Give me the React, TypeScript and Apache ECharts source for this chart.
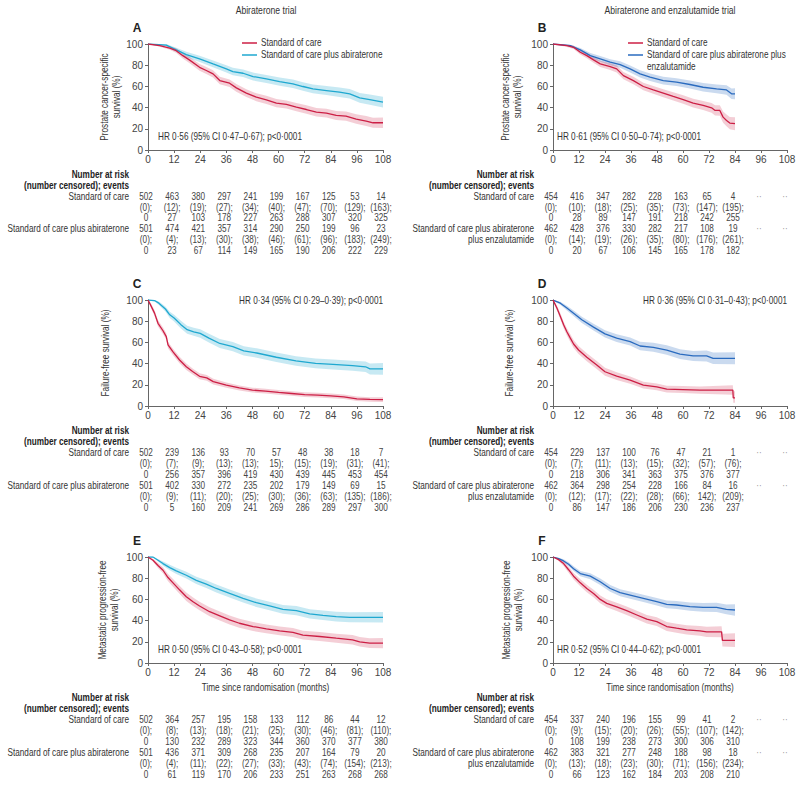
import React, { useEffect, useRef } from "react";
import * as echarts from "echarts";

const FONT = '"Liberation Sans", Arial, sans-serif';
const NARROW = 0.82;
const RED = "#cc1f45";
const CYAN = "#1fa8d0";
const BLUE = "#2a6bbf";
const RED_BAND = "rgba(204,31,69,0.22)";
const CYAN_BAND = "rgba(31,168,208,0.25)";
const BLUE_BAND = "rgba(42,107,191,0.25)";

const X_TICKS = [0, 12, 24, 36, 48, 60, 72, 84, 96, 108];

// ---------- Panel A: prostate cancer-specific survival, abiraterone trial
const A_SOC_T = [0, 5.4, 10, 13, 16, 19, 23.7, 26.8, 29.9, 33, 37.5, 40.6, 45.2, 49.8, 54.4, 59, 63.6, 68.2, 72.8, 77.4, 82, 86.5, 91, 95.7, 100.3, 103.4, 108];
const A_SOC = [100, 98.4, 96.2, 93.7, 89, 85, 78, 75, 71.8, 65.5, 63, 58.6, 53.6, 49.8, 47.3, 44.2, 43, 40.4, 38.2, 35.7, 34.8, 32.6, 32, 29.2, 27.3, 25.7, 25.7];
const A_SOC_LO = [100, 97.3, 94.5, 91.5, 86.4, 82.1, 74.8, 71.7, 68.4, 62, 59.4, 55, 49.9, 46.1, 43.5, 40.4, 39.2, 36.5, 34.3, 31.7, 30.7, 28.4, 27.7, 24.7, 22.6, 20.9, 20.7];
const A_SOC_HI = [100, 99.5, 97.9, 95.9, 91.6, 87.9, 81.2, 78.3, 75.2, 69, 66.6, 62.2, 57.3, 53.5, 51.1, 48, 46.8, 44.3, 42.1, 39.7, 38.9, 36.8, 36.3, 33.7, 32, 30.5, 30.7];
const A_TRT_T = [0, 8.4, 13, 17.6, 23.7, 29.9, 36, 39, 43.7, 48.3, 54.4, 60.5, 66.6, 71.2, 75.8, 82, 88, 92.7, 97.3, 101.9, 108];
const A_TRT = [100, 99, 94.4, 90, 86, 81.2, 76.5, 74, 72.4, 69.3, 67, 64.6, 62.4, 59.9, 57.7, 56.1, 54.5, 53, 49.2, 47.6, 45.1];
const A_TRT_LO = [100, 98.1, 92.4, 87.4, 83, 78, 73.1, 70.5, 68.8, 65.6, 63.2, 60.7, 58.4, 55.8, 53.5, 51.8, 50.1, 48.5, 44.6, 42.8, 40];
const A_TRT_HI = [100, 99.9, 96.4, 92.6, 89, 84.4, 79.9, 77.5, 76, 73, 70.8, 68.5, 66.4, 64, 61.9, 60.4, 58.9, 57.5, 53.8, 52.4, 50.2];

// ---------- Panel B
const B_SOC_T = [0, 6.4, 9.5, 12.6, 15.6, 18.7, 21.8, 26.4, 29.4, 32.5, 37.1, 41.7, 46.3, 50.9, 55.5, 60.1, 64.7, 69.3, 73.2, 74.8, 77, 78.5, 80.1, 81.6, 84];
const B_SOC = [100, 98.4, 96.9, 92.2, 89, 85, 81.2, 78.7, 76.5, 70.2, 65.5, 59.9, 56.7, 53.6, 50.5, 47.6, 44.2, 42, 39.8, 37.3, 37.3, 31, 27.9, 25.4, 24.8];
const B_SOC_LO = [100, 97.2, 95.3, 90, 86.5, 82.2, 78.2, 75.5, 73.2, 66.8, 62, 56.3, 53, 49.8, 46.6, 43.6, 40.1, 37.7, 35.2, 32.5, 32.3, 25.7, 22.4, 19.6, 18.6];
const B_SOC_HI = [100, 99.6, 98.5, 94.4, 91.5, 87.8, 84.2, 81.9, 79.8, 73.6, 69, 63.5, 60.4, 57.4, 54.4, 51.6, 48.3, 46.3, 44.4, 42.1, 42.3, 36.3, 33.4, 31.2, 31];
const B_TRT_T = [0, 8, 12.6, 17.2, 21.8, 26.4, 31, 35.6, 40.2, 44.8, 50.9, 57, 63.2, 69.3, 75.5, 80.1, 82.4, 84];
const B_TRT = [100, 98.4, 94.4, 89, 85.9, 82.8, 80.6, 76.5, 71.8, 68.7, 65.5, 64, 61.8, 59.2, 57.7, 56.7, 53, 53];
const B_TRT_LO = [100, 97.4, 92.6, 86.6, 83.2, 79.9, 77.5, 73.2, 68.4, 65.2, 61.9, 60.3, 58, 55.3, 53.5, 52.2, 48, 47.8];
const B_TRT_HI = [100, 99.4, 96.2, 91.4, 88.6, 85.7, 83.7, 79.8, 75.2, 72.2, 69.1, 67.7, 65.6, 63.1, 61.9, 61.2, 58, 58.2];

// ---------- Panel C
const C_SOC_T = [0, 0.5, 1.5, 3, 4.6, 6.9, 8.4, 9.2, 11.5, 14.5, 17.6, 20.5, 23.7, 27, 30, 36, 42, 48, 54, 60, 66, 72, 78, 84, 90, 96, 102, 108];
const C_SOC = [100, 98, 94, 87.6, 78, 71, 65.5, 57.6, 51, 43.4, 37, 32.5, 28, 26.5, 23, 19.6, 17, 15, 14, 12.8, 11.8, 10.8, 10.3, 9.5, 8.7, 6.8, 6.2, 6];
const C_SOC_LO = [100, 97, 91.8, 84.9, 75, 67.9, 62.4, 54.5, 47.9, 40.3, 34, 29.6, 25.2, 23.8, 20.4, 17.1, 14.6, 12.7, 11.7, 10.6, 9.6, 8.6, 8.1, 7.3, 6.5, 4.7, 4.1, 3.8];
const C_SOC_HI = [100, 99, 96.2, 90.3, 81, 74.1, 68.6, 60.7, 54.1, 46.5, 40, 35.4, 30.8, 29.2, 25.6, 22.1, 19.4, 17.3, 16.3, 15, 14, 13, 12.5, 11.7, 10.9, 8.9, 8.3, 8.2];
const C_TRT_T = [0, 3, 5, 8, 10, 12, 15, 18, 21, 24, 28, 33, 39, 44, 50, 59, 68, 77, 85, 94, 100, 102, 108];
const C_TRT = [100, 99.5, 97, 91.5, 86, 83, 77, 72, 70, 68.5, 64, 59, 56, 52, 50, 46, 42.5, 40.2, 39.2, 38, 37, 35, 35];
const C_TRT_LO = [100, 98.5, 95.4, 89.2, 83, 79.8, 73.3, 68.2, 66.2, 64.5, 59.8, 54.8, 51.6, 47.6, 45.6, 41.6, 38, 35.6, 34.5, 33.2, 32, 29.8, 29.5];
const C_TRT_HI = [100, 100, 98.6, 93.8, 89, 86.2, 80.7, 75.8, 73.8, 72.5, 68.2, 63.2, 60.4, 56.4, 54.4, 50.4, 47, 44.8, 43.9, 42.8, 42, 40.2, 40.5];

// ---------- Panel D
const D_SOC_T = [0, 0.3, 1.8, 3.4, 4.9, 6.4, 8, 9.5, 11.8, 15.6, 20.2, 24, 29.4, 35.6, 41.7, 47.9, 52.5, 60, 67.8, 83, 83.2, 84];
const D_SOC = [100, 98.7, 92.4, 84.5, 76.6, 70, 64, 58.5, 52.8, 46, 38.6, 32.3, 28.2, 24.4, 19.6, 18, 16, 15.5, 15, 15, 7.6, 7.6];
const D_SOC_LO = [100, 97.5, 90, 81.6, 73.4, 66.6, 60.4, 54.8, 49, 42.2, 34.8, 28.6, 24.6, 21, 16.4, 14.8, 12.8, 12.2, 11.5, 10.5, 3, 3];
const D_SOC_HI = [100, 99.9, 94.8, 87.4, 79.8, 73.4, 67.6, 62.2, 56.6, 49.8, 42.4, 36, 31.8, 27.8, 22.8, 21.2, 19.2, 18.8, 18.5, 19.5, 14, 14];
const D_TRT_T = [0, 0.3, 3.4, 6.4, 9.5, 13.3, 18.7, 24, 29.4, 35.6, 40.2, 46.3, 52.5, 58.6, 64.7, 70.9, 73.9, 84];
const D_TRT = [100, 99.7, 97, 92.4, 87.6, 81.3, 74.4, 68, 64, 60.8, 56.6, 55.4, 52.8, 49, 47.2, 47.2, 45, 45];
const D_TRT_LO = [100, 99.2, 95.6, 90.2, 85, 78.4, 71.2, 64.6, 60.4, 57, 52.6, 51.2, 48.4, 44.4, 42.4, 42, 39.6, 39.4];
const D_TRT_HI = [100, 100, 98.4, 94.6, 90.2, 84.2, 77.6, 71.4, 67.6, 64.6, 60.6, 59.6, 57.2, 53.6, 52, 52.4, 50.4, 50.6];

// ---------- Panel E
const E_SOC_T = [0, 2.3, 4.6, 6.9, 9.2, 11.5, 14.6, 17.6, 20.7, 23.7, 28.3, 33, 37.5, 42, 48.3, 54.4, 60.5, 66.6, 71.2, 78.9, 86.5, 94, 97.3, 101.9, 108];
const E_SOC = [100, 97, 92, 87.5, 80.6, 75.6, 68.8, 62.5, 57.8, 53.8, 48.4, 44.4, 40.6, 37.5, 34.4, 32.2, 30.3, 28.8, 26.3, 25, 23.4, 21.9, 20, 18.8, 18.8];
const E_SOC_LO = [100, 95.6, 89.7, 84.6, 77.2, 72, 65, 58.6, 53.8, 49.8, 44.2, 40.2, 36.4, 33.3, 30.2, 28, 26.1, 24.6, 22.1, 20.8, 19.1, 17.5, 15.5, 14.2, 14];
const E_SOC_HI = [100, 98.4, 94.3, 90.4, 84, 79.2, 72.6, 66.4, 61.8, 57.8, 52.6, 48.6, 44.8, 41.7, 38.6, 36.4, 34.5, 33, 30.5, 29.2, 27.7, 26.3, 24.5, 23.4, 23.6];
const E_TRT_T = [0, 2.3, 4.6, 6.9, 10, 13, 17.6, 22.2, 26.8, 31.4, 37.5, 43.7, 49.8, 55.9, 62, 68.2, 74.3, 80.4, 86.5, 92.7, 108];
const E_TRT = [100, 100, 97, 93.8, 90, 86.9, 82.8, 78, 74.4, 70.3, 65.6, 61, 56.9, 53.8, 50.6, 49.4, 46.3, 45, 43.8, 43.1, 43.1];
const E_TRT_LO = [100, 99.8, 95.8, 91.8, 87.4, 84, 79.6, 74.6, 70.8, 66.6, 61.8, 57.1, 52.9, 49.7, 46.4, 45.1, 41.9, 40.5, 39.2, 38.4, 38.2];
const E_TRT_HI = [100, 100, 98.2, 95.8, 92.6, 89.8, 86, 81.4, 78, 74, 69.4, 64.9, 60.9, 57.9, 54.8, 53.7, 50.7, 49.5, 48.4, 47.8, 48];

// ---------- Panel F
const F_SOC_T = [0, 2.6, 4.9, 7.2, 9.5, 12.6, 15.6, 18.7, 21.8, 24.8, 29.4, 34, 38.7, 43.3, 47.9, 52.5, 57, 61.7, 67.8, 70.9, 77.8, 78.2, 84];
const F_SOC = [100, 97.5, 93.8, 88, 81.9, 75.6, 70.3, 65.6, 60, 56.3, 53, 49.4, 45.3, 41.3, 39, 34.4, 32.8, 31.3, 30.3, 29.4, 29.4, 21.3, 21.3];
const F_SOC_LO = [100, 96.2, 91.6, 85.2, 78.8, 72.3, 66.8, 62, 56.3, 52.5, 49.1, 45.4, 41.3, 37.2, 34.8, 30.2, 28.5, 26.9, 25.7, 24.6, 24.2, 15.6, 15.2];
const F_SOC_HI = [100, 98.8, 96, 90.8, 85, 78.9, 73.8, 69.2, 63.7, 60.1, 56.9, 53.4, 49.3, 45.4, 43.2, 38.6, 37.1, 35.7, 34.9, 34.2, 34.6, 27.6, 28];
const F_TRT_T = [0, 2.6, 4.9, 7.2, 9.5, 12.6, 17.2, 21.8, 26.4, 31, 35.6, 41.7, 47.9, 52.5, 57, 63.2, 69.3, 75.5, 80, 84];
const F_TRT = [100, 98.4, 96.3, 93.1, 89, 84.4, 81.9, 76.6, 70.3, 66.3, 64, 61, 57.8, 55.3, 54.7, 53.1, 52.5, 52.5, 50.6, 50];
const F_TRT_LO = [100, 97.6, 94.8, 91.2, 86.8, 81.9, 79.1, 73.6, 67.1, 63, 60.6, 57.5, 54.2, 51.6, 50.9, 49.2, 48.4, 48.2, 46, 44.6];
const F_TRT_HI = [100, 99.2, 97.8, 95, 91.2, 86.9, 84.7, 79.6, 73.5, 69.6, 67.4, 64.5, 61.4, 59, 58.5, 57, 56.6, 56.8, 55.2, 55.4];

// ---------- Number at risk tables
const A_NR_SOC = [502, 463, 380, 297, 241, 199, 167, 125, 53, 14];
const A_CENS_SOC = ["(0);", "(12);", "(19);", "(27);", "(34);", "(40);", "(47);", "(70);", "(129);", "(163);"];
const A_EV_SOC = [0, 27, 103, 178, 227, 263, 288, 307, 320, 325];
const A_NR_TRT = [501, 474, 421, 357, 314, 290, 250, 199, 96, 23];
const A_CENS_TRT = ["(0);", "(4);", "(13);", "(30);", "(38);", "(46);", "(61);", "(96);", "(183);", "(249);"];
const A_EV_TRT = [0, 23, 67, 114, 149, 165, 190, 206, 222, 229];

const B_NR_SOC = [454, 416, 347, 282, 228, 163, 65, 4];
const B_CENS_SOC = ["(0);", "(10);", "(18);", "(25);", "(35);", "(73);", "(147);", "(195);"];
const B_EV_SOC = [0, 28, 89, 147, 191, 218, 242, 255];
const B_NR_TRT = [462, 428, 376, 330, 282, 217, 108, 19];
const B_CENS_TRT = ["(0);", "(14);", "(19);", "(26);", "(35);", "(80);", "(176);", "(261);"];
const B_EV_TRT = [0, 20, 67, 106, 145, 165, 178, 182];

const C_NR_SOC = [502, 239, 136, 93, 70, 57, 48, 38, 18, 7];
const C_CENS_SOC = ["(0);", "(7);", "(9);", "(13);", "(13);", "15);", "(15);", "(19);", "(31);", "(41);"];
const C_EV_SOC = [0, 256, 357, 396, 419, 430, 439, 445, 453, 454];
const C_NR_TRT = [501, 402, 330, 272, 235, 202, 179, 149, 69, 15];
const C_CENS_TRT = ["(0);", "(9);", "(11);", "(20);", "(25);", "(30);", "(36);", "(63);", "(135);", "(186);"];
const C_EV_TRT = [0, 5, 160, 209, 241, 269, 286, 289, 297, 300];

const D_NR_SOC = [454, 229, 137, 100, 76, 47, 21, 1];
const D_CENS_SOC = ["(0);", "(7);", "(11);", "(13);", "(15);", "(32);", "(57);", "(76);"];
const D_EV_SOC = [0, 218, 306, 341, 363, 375, 376, 377];
const D_NR_TRT = [462, 364, 298, 254, 228, 166, 84, 16];
const D_CENS_TRT = ["(0);", "(12);", "(17);", "(22);", "(28);", "(66);", "142);", "(209);"];
const D_EV_TRT = [0, 86, 147, 186, 206, 230, 236, 237];

const E_NR_SOC = [502, 364, 257, 195, 158, 133, 112, 86, 44, 12];
const E_CENS_SOC = ["(0);", "(8);", "(13);", "(18);", "(21);", "(25);", "(30);", "(46);", "(81);", "(110);"];
const E_EV_SOC = [0, 130, 232, 289, 323, 344, 360, 370, 377, 380];
const E_NR_TRT = [501, 436, 371, 309, 268, 235, 207, 164, 79, 20];
const E_CENS_TRT = ["(0);", "(4);", "(11);", "(22);", "(27);", "(33);", "(43);", "(74);", "(154);", "(213);"];
const E_EV_TRT = [0, 61, 119, 170, 206, 233, 251, 263, 268, 268];

const F_NR_SOC = [454, 337, 240, 196, 155, 99, 41, 2];
const F_CENS_SOC = ["(0);", "(9);", "(15);", "(20);", "(26);", "(55);", "(107);", "(142);"];
const F_EV_SOC = [0, 108, 199, 238, 273, 300, 306, 310];
const F_NR_TRT = [462, 383, 321, 277, 248, 188, 98, 18];
const F_CENS_TRT = ["(0);", "(13);", "(18);", "(23);", "(30);", "(71);", "(156);", "(234);"];
const F_EV_TRT = [0, 66, 123, 162, 184, 203, 208, 210];

const SOC_LABEL = "Standard of care";
const TRT_LABEL_ABI = "Standard of care plus abiraterone";
const TRT_LABEL_ENZ = ["Standard of care plus abiraterone", "plus enzalutamide"];
const HR_TEXT = [
  "HR 0·56 (95% CI 0·47–0·67); p<0·0001",
  "HR 0·61 (95% CI 0·50–0·74); p<0·0001",
  "HR 0·34 (95% CI 0·29–0·39); p<0·0001",
  "HR 0·36 (95% CI 0·31–0·43); p<0·0001",
  "HR 0·50 (95% CI 0·43–0·58); p<0·0001",
  "HR 0·52 (95% CI 0·44–0·62); p<0·0001",
];
const Y_TITLES = [
  "Prostate cancer-specific\nsurvival (%)",
  "Prostate cancer-specific\nsurvival (%)",
  "Failure-free survival (%)",
  "Failure-free survival (%)",
  "Metastatic progression-free\nsurvival (%)",
  "Metastatic progression-free\nsurvival (%)",
];
const LETTERS = ["A", "B", "C", "D", "E", "F"];

type Curve = { t: number[]; v: number[]; lo: number[]; hi: number[] };
type Panel = {
  soc: Curve;
  trt: Curve;
  trtColor: string;
  trtBand: string;
  nrSoc: number[];
  censSoc: string[];
  evSoc: number[];
  nrTrt: number[];
  censTrt: string[];
  evTrt: number[];
};

const PANELS: Panel[] = [
  { soc: { t: A_SOC_T, v: A_SOC, lo: A_SOC_LO, hi: A_SOC_HI }, trt: { t: A_TRT_T, v: A_TRT, lo: A_TRT_LO, hi: A_TRT_HI }, trtColor: CYAN, trtBand: CYAN_BAND, nrSoc: A_NR_SOC, censSoc: A_CENS_SOC, evSoc: A_EV_SOC, nrTrt: A_NR_TRT, censTrt: A_CENS_TRT, evTrt: A_EV_TRT },
  { soc: { t: B_SOC_T, v: B_SOC, lo: B_SOC_LO, hi: B_SOC_HI }, trt: { t: B_TRT_T, v: B_TRT, lo: B_TRT_LO, hi: B_TRT_HI }, trtColor: BLUE, trtBand: BLUE_BAND, nrSoc: B_NR_SOC, censSoc: B_CENS_SOC, evSoc: B_EV_SOC, nrTrt: B_NR_TRT, censTrt: B_CENS_TRT, evTrt: B_EV_TRT },
  { soc: { t: C_SOC_T, v: C_SOC, lo: C_SOC_LO, hi: C_SOC_HI }, trt: { t: C_TRT_T, v: C_TRT, lo: C_TRT_LO, hi: C_TRT_HI }, trtColor: CYAN, trtBand: CYAN_BAND, nrSoc: C_NR_SOC, censSoc: C_CENS_SOC, evSoc: C_EV_SOC, nrTrt: C_NR_TRT, censTrt: C_CENS_TRT, evTrt: C_EV_TRT },
  { soc: { t: D_SOC_T, v: D_SOC, lo: D_SOC_LO, hi: D_SOC_HI }, trt: { t: D_TRT_T, v: D_TRT, lo: D_TRT_LO, hi: D_TRT_HI }, trtColor: BLUE, trtBand: BLUE_BAND, nrSoc: D_NR_SOC, censSoc: D_CENS_SOC, evSoc: D_EV_SOC, nrTrt: D_NR_TRT, censTrt: D_CENS_TRT, evTrt: D_EV_TRT },
  { soc: { t: E_SOC_T, v: E_SOC, lo: E_SOC_LO, hi: E_SOC_HI }, trt: { t: E_TRT_T, v: E_TRT, lo: E_TRT_LO, hi: E_TRT_HI }, trtColor: CYAN, trtBand: CYAN_BAND, nrSoc: E_NR_SOC, censSoc: E_CENS_SOC, evSoc: E_EV_SOC, nrTrt: E_NR_TRT, censTrt: E_CENS_TRT, evTrt: E_EV_TRT },
  { soc: { t: F_SOC_T, v: F_SOC, lo: F_SOC_LO, hi: F_SOC_HI }, trt: { t: F_TRT_T, v: F_TRT, lo: F_TRT_LO, hi: F_TRT_HI }, trtColor: BLUE, trtBand: BLUE_BAND, nrSoc: F_NR_SOC, censSoc: F_CENS_SOC, evSoc: F_EV_SOC, nrTrt: F_NR_TRT, censTrt: F_CENS_TRT, evTrt: F_EV_TRT },
];

// ---------- layout (pixels)
const LAYOUT = [
  { left: 148, top: 44, width: 235 },
  { left: 553, top: 44, width: 234 },
  { left: 148, top: 300, width: 235 },
  { left: 553, top: 300, width: 234 },
  { left: 148, top: 557, width: 235 },
  { left: 553, top: 557, width: 234 },
];
const PLOT_H = 106;
const Y_TITLE_X = [111, 512, 106, 510, 109, 513];
const TABLE_Y0 = [175, 175, 431, 431, 698, 698];
const TABLE_DY = [10.8, 10.8, 10.9, 10.9, 11, 11];

const TEXT_COLOR = "#333";
const NUM_COLOR = "#444";

function text(x: number, y: number, s: string, o: any = {}) {
  return {
    type: "text",
    x,
    y,
    rotation: o.rotation || 0,
    scaleX: o.scaleX || NARROW,
    silent: true,
    style: {
      text: s,
      fill: o.fill || TEXT_COLOR,
      fontSize: o.fontSize || 10,
      fontFamily: FONT,
      fontWeight: o.fontWeight || "normal",
      textAlign: o.align || "left",
      textVerticalAlign: "middle",
      lineHeight: o.lineHeight || 12,
    },
  };
}

function bandSeries(i: number, c: Curve, color: string) {
  return {
    type: "custom",
    xAxisIndex: i,
    yAxisIndex: i,
    silent: true,
    z: 1,
    data: [[0, 0]],
    renderItem: (_params: any, api: any) => {
      const upper = c.t.map((t, k) => api.coord([t, c.hi[k]]));
      const lower = c.t.map((t, k) => api.coord([t, c.lo[k]])).reverse();
      return {
        type: "polygon",
        shape: { points: upper.concat(lower) },
        style: { fill: color, stroke: "none" },
      };
    },
  };
}

function buildOption() {
  const grid: any[] = [];
  const xAxis: any[] = [];
  const yAxis: any[] = [];
  const series: any[] = [];
  const graphic: any[] = [];

  const axisCommon = {
    axisLine: { show: true, lineStyle: { color: "#666", width: 1 } },
    axisTick: { show: true, inside: false, length: 3, lineStyle: { color: "#666" } },
    splitLine: { show: false },
  };

  PANELS.forEach((p, i) => {
    const L = LAYOUT[i];
    grid.push({ left: L.left, top: L.top, width: L.width, height: PLOT_H, containLabel: false });
    xAxis.push({
      type: "value",
      gridIndex: i,
      min: 0,
      max: 108,
      interval: 12,
      ...axisCommon,
      axisLabel: { color: NUM_COLOR, fontSize: 10, fontFamily: FONT, margin: 4, showMaxLabel: true, showMinLabel: true },
    });
    yAxis.push({
      type: "value",
      gridIndex: i,
      min: 0,
      max: 100,
      interval: 20,
      ...axisCommon,
      axisLabel: { color: NUM_COLOR, fontSize: 10, fontFamily: FONT, margin: 5 },
    });

    series.push(bandSeries(i, p.trt, p.trtBand));
    series.push(bandSeries(i, p.soc, RED_BAND));

    const addLine = (c: Curve, color: string) => {
      series.push({
        type: "line",
        xAxisIndex: i,
        yAxisIndex: i,
        data: c.t.map((t, k) => [t, c.v[k]]),
        symbol: "none",
        silent: true,
        lineStyle: { color, width: 1.3 },
        z: 3,
      });
    };
    addLine(p.trt, p.trtColor);
    addLine(p.soc, RED);

    // panel letter
    graphic.push(text(L.left - 11, L.top - 16, LETTERS[i], { fontSize: 12, fontWeight: "bold", align: "center", fill: "#222", scaleX: 1 }));
    // y title
    graphic.push(text(Y_TITLE_X[i], L.top + PLOT_H / 2, Y_TITLES[i], { rotation: Math.PI / 2, align: "center" }));
    // HR text
    if (i === 2 || i === 3) {
      graphic.push(text(L.left + L.width, L.top + 1, HR_TEXT[i], { align: "right" }));
    } else {
      graphic.push(text(i % 2 === 0 ? 158 : 557, L.top + 93, HR_TEXT[i]));
    }
    // x title (bottom row)
    if (i >= 4) {
      graphic.push(text(L.left + L.width / 2, 688, "Time since randomisation (months)", { align: "center" }));
    }

    // table
    const y0 = TABLE_Y0[i];
    const dy = TABLE_DY[i];
    const labelX = L.left - 19;
    graphic.push(text(labelX, y0, "Number at risk", { align: "right", fontWeight: "bold", fill: "#222" }));
    graphic.push(text(labelX, y0 + dy, "(number censored); events", { align: "right", fontWeight: "bold", fill: "#222" }));
    graphic.push(text(labelX, y0 + 2 * dy, SOC_LABEL, { align: "right" }));
    if (i % 2 === 0) {
      graphic.push(text(labelX, y0 + 5 * dy, TRT_LABEL_ABI, { align: "right" }));
    } else {
      graphic.push(text(labelX, y0 + 5 * dy, TRT_LABEL_ENZ[0], { align: "right" }));
      graphic.push(text(labelX, y0 + 6 * dy, TRT_LABEL_ENZ[1], { align: "right" }));
    }
    const colX = (k: number) => L.left + (X_TICKS[k] / 108) * L.width - 2;
    const rows: [any[], number][] = [
      [p.nrSoc, 2],
      [p.censSoc, 3],
      [p.evSoc, 4],
      [p.nrTrt, 5],
      [p.censTrt, 6],
      [p.evTrt, 7],
    ];
    rows.forEach(([vals, r]) => {
      vals.forEach((v, k) => {
        graphic.push(text(colX(k), y0 + r * dy, String(v), { align: "center", fill: NUM_COLOR }));
      });
      if (vals.length < X_TICKS.length && (r === 2 || r === 5)) {
        for (let k = vals.length; k < X_TICKS.length; k++) {
          graphic.push(text(colX(k), y0 + r * dy, "··", { align: "center", fill: "#999" }));
        }
      }
    });
  });

  // column titles
  graphic.push(text(266, 10, "Abiraterone trial", { align: "center", fontSize: 10.5 }));
  graphic.push(text(670, 10, "Abiraterone and enzalutamide trial", { align: "center", fontSize: 10.5 }));

  // legends
  const legend = (x1: number, items: { color: string; lines: string[] }[]) => {
    let y = 43;
    items.forEach((it) => {
      graphic.push({ type: "line", silent: true, shape: { x1, y1: y, x2: x1 + 15, y2: y }, style: { stroke: it.color, lineWidth: 1.5 } });
      it.lines.forEach((ln) => {
        graphic.push(text(x1 + 19, y, ln));
        y += 12;
      });
    });
  };
  legend(242, [
    { color: RED, lines: [SOC_LABEL] },
    { color: CYAN, lines: [TRT_LABEL_ABI] },
  ]);
  legend(628, [
    { color: RED, lines: [SOC_LABEL] },
    { color: BLUE, lines: ["Standard of care plus abiraterone plus", "enzalutamide"] },
  ]);

  return {
    animation: false,
    backgroundColor: "#fff",
    grid,
    xAxis,
    yAxis,
    series,
    graphic: { elements: graphic },
  };
}

export default function App() {
  const ref = useRef<HTMLDivElement>(null);
  useEffect(() => {
    if (!ref.current) return;
    const chart = echarts.init(ref.current, null, { renderer: "svg" });
    chart.setOption(buildOption());
    return () => chart.dispose();
  }, []);
  return (
    <div
      ref={ref}
      style={{ position: "absolute", left: 0, top: 0, width: 800, height: 788, background: "#fff" }}
    />
  );
}
